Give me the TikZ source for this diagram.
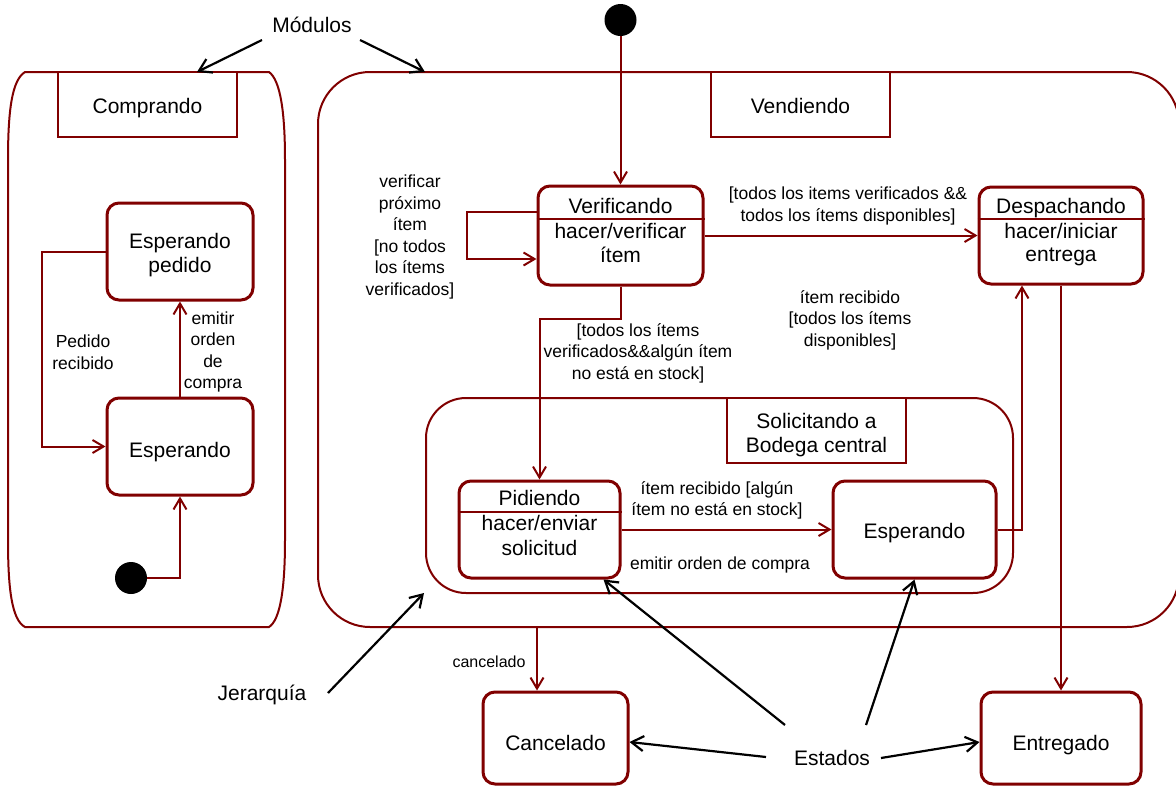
\documentclass[tikz,border=0pt]{standalone}
\usepackage{fontspec}
\setmainfont{Liberation Sans}
\usetikzlibrary{arrows.meta}
\definecolor{mr}{RGB}{128,0,0}
\begin{document}
\begin{tikzpicture}[x=1pt,y=-1pt,
  big/.style={font=\fontsize{21}{24}\selectfont, align=center},
  tx/.style={font=\fontsize{21}{24}\selectfont, anchor=base, inner sep=0},
  lbl/.style={font=\fontsize{17.5}{21.5}\selectfont, align=center, inner sep=0},
  stbox/.style={draw=mr, line width=3pt, rounded corners=12pt, fill=white, inner sep=0},
  frame/.style={draw=mr, line width=2pt},
  lblbox/.style={draw=mr, line width=2pt, fill=white, minimum width=179pt, minimum height=65pt, inner sep=0},
  divl/.style={draw=mr, line width=2pt},
  tr/.style={draw=mr, line width=2pt, -{Straight Barb[length=11pt,width=13pt]}},
  nt/.style={draw=black, line width=2.2pt, -{Straight Barb[length=12pt,width=15pt]}},
  dot/.style={circle, fill=black, minimum size=32pt, inner sep=0}
]
\useasboundingbox (0,0) rectangle (1176,788);

% ---- module frames ----
\draw[frame] (25,72) -- (269,72) .. controls (280,80) and (285,110) .. (285,160)
  -- (285,540) .. controls (285,590) and (280,620) .. (269,627)
  -- (25,627) .. controls (12,620) and (8,590) .. (8,540)
  -- (8,160) .. controls (8,110) and (12,80) .. (25,72) -- cycle;
\node[frame, rounded corners=52pt, minimum width=861pt, minimum height=555pt, inner sep=0] (VF) at (748.5,349.5) {};
\node[frame, rounded corners=40pt, minimum width=587pt, minimum height=195pt, inner sep=0] (SF) at (719.5,495.5) {};

% ---- label boxes ----
\node[lblbox] (Lc) at (147.5,104.5) {};
\node[lblbox] (Lv) at (800.5,104.5) {};
\node[lblbox] (Ls) at (816.5,430.5) {};
\node[tx] (Lct) at (147.5,113) {Comprando};
\node[tx] (Lvt) at (800.5,113) {Vendiendo};
\node[tx] (Lst1) at (816.5,428) {Solicitando a};
\node[tx] (Lst2) at (816.5,452) {Bodega central};

% ---- states ----
\node[stbox, minimum width=146pt, minimum height=97pt] (EP) at (180,251.5) {};
\node[stbox, minimum width=146pt, minimum height=97pt] (E) at (180,446.5) {};
\node[stbox, minimum width=165pt, minimum height=99pt] (V) at (620.5,235.5) {};
\node[stbox, minimum width=164pt, minimum height=97pt] (D) at (1061,235.5) {};
\node[stbox, minimum width=161pt, minimum height=97pt] (P) at (539.5,529.5) {};
\node[stbox, minimum width=163pt, minimum height=97pt] (Es) at (914.5,529.5) {};
\node[stbox, minimum width=145pt, minimum height=92pt] (C) at (555.5,738) {};
\node[stbox, minimum width=160pt, minimum height=92pt] (Ent) at (1061,738) {};

% dividers
\draw[divl] ([yshift=-34pt]V.north west) -- ([yshift=-34pt]V.north east);
\draw[divl] ([yshift=-33pt]D.north west) -- ([yshift=-33pt]D.north east);
\draw[divl] ([yshift=-32pt]P.north west) -- ([yshift=-32pt]P.north east);

% state texts
\node[tx] (EPt1) at (180,248) {Esperando};
\node[tx] (EPt2) at (180,272) {pedido};
\node[tx] (Et) at (180,457) {Esperando};
\node[tx] (Vt1) at (620.5,213) {Verificando};
\node[tx] (Vt2) at (620.5,238) {hacer/verificar};
\node[tx] (Vt3) at (620.5,262) {ítem};
\node[tx] (Dt1) at (1061,213) {Despachando};
\node[tx] (Dt2) at (1061,238) {hacer/iniciar};
\node[tx] (Dt3) at (1061,261) {entrega};
\node[tx] (Pt1) at (539.5,505) {Pidiendo};
\node[tx] (Pt2) at (539.5,530) {hacer/enviar};
\node[tx] (Pt3) at (539.5,555) {solicitud};
\node[tx] (Est) at (914.5,538) {Esperando};
\node[tx] (Ct) at (555.5,750) {Cancelado};
\node[tx] (Entt) at (1061,750) {Entregado};

% initial states
\node[dot] (I1) at (131,578) {};
\node[dot] (I2) at (620.5,20) {};

% ---- transitions ----
\draw[tr] (I1) -| (E.south);
\draw[tr] (E.north) -- (EP.south);
\draw[tr] (EP.west) -- ++(-64,0) |- (E.west);
\draw[tr] (I2) -- (V.north);
\draw[tr] ([yshift=23.5pt]V.west) -- ++(-70,0) |- ([yshift=-23.5pt]V.west);
\draw[tr] (V.east) -- (D.west);
\draw[tr] (V.south) -- ++(0,32) -| (P.north);
\draw[tr] (P.east) -- (Es.west);
\draw[tr] (Es.east) -| ([xshift=-39pt]D.south);
\draw[tr] (D.south) -- (Ent.north);
\coordinate (cx) at (537,627);
\draw[tr] (cx) -- (cx |- C.north);

% ---- transition labels ----
\node[lbl] (l1) at (83,352) {Pedido\\recibido};
\node[lbl] (l2) at (213,352) {emitir\\orden\\de\\compra};
\node[lbl] (l3) at (410,237) {verificar\\próximo\\ítem\\{[}no todos\\los ítems\\verificados{]}};
\node[lbl] (l4) at (638,353) {{[}todos los ítems\\verificados\&\&algún ítem\\no está en stock{]}};
\node[lbl] (l5) at (848,206) {{[}todos los items verificados \&\&\\todos los ítems disponibles{]}};
\node[lbl] (l6) at (850,320) {ítem recibido\\{[}todos los ítems\\disponibles{]}};
\node[lbl] (l7) at (717,500.5) {ítem recibido {[}algún\\ítem no está en stock{]}};
\node[lbl] (l8) at (720,565) {emitir orden de compra};
\node[lbl, font=\fontsize{16}{19}\selectfont] (l9) at (489,662) {cancelado};

% ---- annotations ----
\node[tx] (M) at (312,32) {Módulos};
\coordinate (m1) at (197,72);
\coordinate (m2) at (425,72);
\coordinate (m1s) at (262,40);
\coordinate (m2s) at (360,40);
\draw[nt] (m1s) -- (m1);
\draw[nt] (m2s) -- (m2);

\node[tx] (J) at (262,700) {Jerarquía};
\coordinate (j0) at (328,693);
\coordinate (j1) at (424,593);
\draw[nt] (j0) -- (j1);

\node[tx] (S) at (832,765) {Estados};
\coordinate (s1) at (766,757);
\coordinate (s2) at (881,758);
\draw[nt] (s1) -- ([yshift=-4pt]C.east);
\draw[nt] (s2) -- ([yshift=-4pt]Ent.west);
\coordinate (e1) at (785,725);
\coordinate (e2) at (866,725);
\draw[nt] (e1) -- ([xshift=-18pt]P.south east);
\draw[nt] (e2) -- (Es.south);
\end{tikzpicture}
\end{document}
